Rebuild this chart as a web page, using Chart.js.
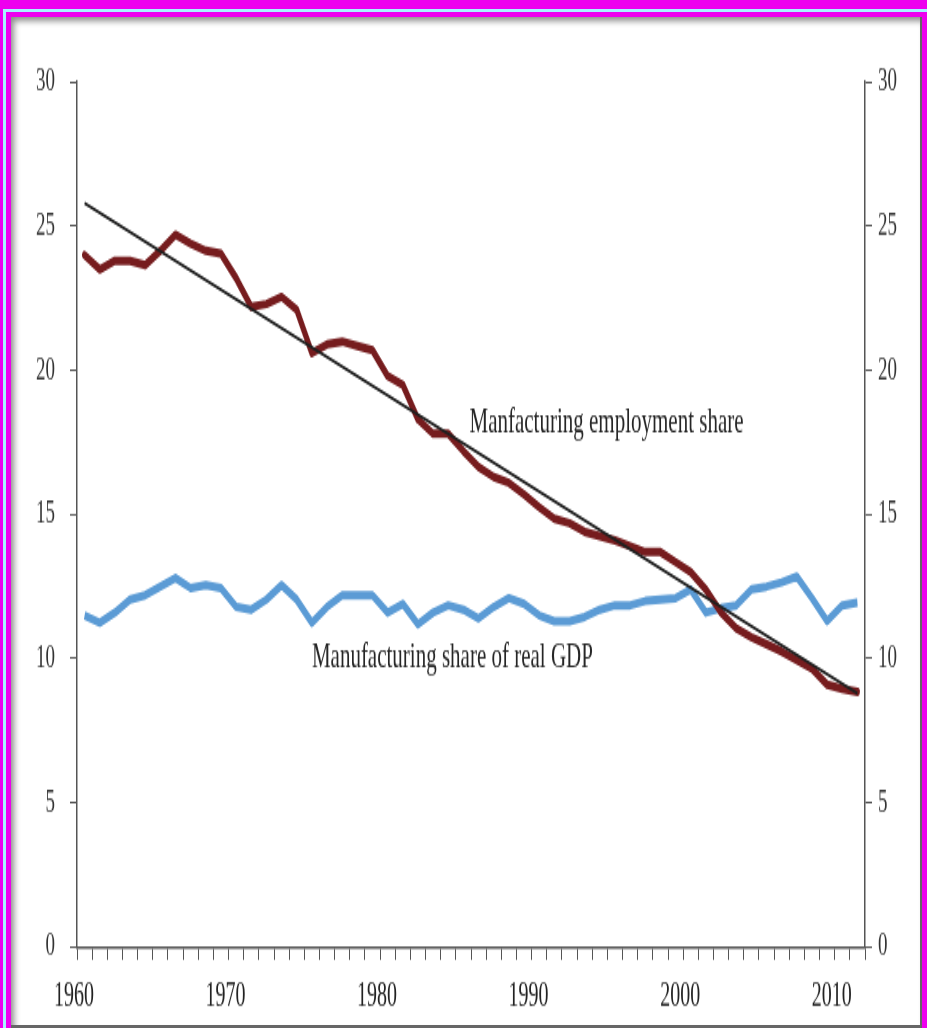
<!DOCTYPE html>
<html>
<head>
<meta charset="utf-8">
<script src="https://cdn.jsdelivr.net/npm/chart.js@4/dist/chart.umd.min.js"></script>
<style>
  html, body { margin: 0; padding: 0; width: 927px; height: 1028px; overflow: hidden; background: #ee00ee; }
  #cyan { position: absolute; left: 3px; top: 9px; width: 940px; height: 1040px; border-left: 3px solid #a6f4ff; border-top: 3px solid #a6f4ff; box-sizing: border-box; }
  #panel { position: absolute; left: 11px; top: 17px; width: 911px; height: 1011px; background: #fff; box-sizing: border-box;
           border-right: 2px solid #666; border-bottom: 3px solid #666;
           box-shadow: inset 4px 5px 6px -1px rgba(0,0,0,0.45); }
  #wrap { position: absolute; left: 0; top: 0; width: 927px; height: 604px; transform-origin: 0 0; }
  canvas { display: block; }
</style>
</head>
<body>
<div id="cyan"></div>
<div id="panel"></div>
<div id="wrap"><canvas id="c" width="927" height="604"></canvas></div>
<script>
// ---- Data ----
const years = [1960,1961,1962,1963,1964,1965,1966,1967,1968,1969,
               1970,1971,1972,1973,1974,1975,1976,1977,1978,1979,
               1980,1981,1982,1983,1984,1985,1986,1987,1988,1989,
               1990,1991,1992,1993,1994,1995,1996,1997,1998,1999,
               2000,2001,2002,2003,2004,2005,2006,2007,2008,2009,
               2010,2011];
const employmentShare = [24.0,23.5,23.8,23.8,23.65,24.15,24.7,24.4,24.15,24.05,
                         23.2,22.2,22.3,22.55,22.1,20.6,20.9,21.0,20.85,20.7,
                         19.8,19.5,18.3,17.8,17.8,17.2,16.65,16.3,16.1,15.7,
                         15.25,14.85,14.7,14.4,14.25,14.1,13.9,13.7,13.7,13.35,
                         13.0,12.4,11.6,11.05,10.75,10.5,10.25,9.95,9.65,9.1,
                         8.95,8.85];
const gdpShare = [11.5,11.25,11.6,12.05,12.2,12.5,12.8,12.45,12.55,12.45,
                  11.8,11.7,12.05,12.55,12.05,11.25,11.8,12.2,12.2,12.2,
                  11.6,11.9,11.2,11.6,11.85,11.7,11.4,11.8,12.1,11.9,
                  11.5,11.3,11.3,11.45,11.7,11.85,11.85,12.0,12.05,12.1,
                  12.4,11.6,11.75,11.85,12.4,12.5,12.65,12.85,12.1,11.3,
                  11.85,11.95];
const trendYears = [1960, 2011];
const trendValues = [25.8, 8.8];
const yTicks = [0, 5, 10, 15, 20, 25, 30];
const xLabelYears = [1960, 1970, 1980, 1990, 2000, 2010];
const labelEmployment = "Manfacturing employment share";
const labelGdp = "Manufacturing share of real GDP";

// ---- Layout ----
const W = 927, H = 604, FULL_H = 1028;
const SY = FULL_H / H;               // vertical stretch of the reference image
document.getElementById('wrap').style.transform = 'scaleY(' + SY + ')';
const MID = 0.5;                     // annual values plotted mid-year
const AREA_TOP = 82 / SY, AREA_BOTTOM = 947 / SY, AREA_LEFT = 77, AREA_RIGHT = 865;

const pts = (xs, ys) => xs.map((yr, i) => ({ x: yr + MID, y: ys[i] }));

Chart.defaults.font.family = "'Liberation Serif', 'Times New Roman', serif";
Chart.defaults.color = '#2a2a2a';

const annotate = {
  id: 'annotate',
  afterDatasetsDraw(chart) {
    const { ctx, scales: { x, y } } = chart;
    ctx.save();
    ctx.fillStyle = '#262626';
    ctx.font = "21px 'Liberation Serif', serif";
    ctx.textBaseline = 'middle';
    ctx.textAlign = 'left';
    ctx.fillText(labelEmployment, x.getPixelForValue(1985.9), y.getPixelForValue(18.2));
    ctx.fillText(labelGdp, x.getPixelForValue(1975.5), y.getPixelForValue(10.05));
    ctx.restore();
  }
};

const axisColor = '#555';
const yCommon = {
  type: 'linear', min: 0, max: 30,
  afterBuildTicks: s => { s.ticks = yTicks.map(v => ({ value: v })); },
  grid: { display: true, drawOnChartArea: false, drawTicks: true, tickLength: 7, tickWidth: 1, tickColor: axisColor },
  border: { display: true, color: axisColor, width: 1.5 },
};

new Chart(document.getElementById('c'), {
  type: 'line',
  data: {
    datasets: [
      { label: 'trend', data: pts(trendYears, trendValues), borderColor: '#1f1f1f', borderWidth: 2,
        pointRadius: 0, tension: 0, order: 0, yAxisID: 'y' },
      { label: labelEmployment, data: pts(years, employmentShare), borderColor: '#761c1e', borderWidth: 5,
        pointRadius: 0, tension: 0, order: 1, borderJoinStyle: 'round', borderCapStyle: 'round', yAxisID: 'y' },
      { label: labelGdp, data: pts(years, gdpShare), borderColor: '#5b9bd5', borderWidth: 5,
        pointRadius: 0, tension: 0, order: 2, borderJoinStyle: 'round', yAxisID: 'y' },
    ]
  },
  options: {
    responsive: false, animation: false, devicePixelRatio: 1, events: [],
    layout: { padding: { top: AREA_TOP, left: 0, right: 0, bottom: 0 } },
    plugins: { legend: { display: false }, tooltip: { enabled: false } },
    scales: {
      x: {
        type: 'linear', min: 1960, max: 2012, offset: false,
        ticks: { stepSize: 1, autoSkip: false, maxRotation: 0, padding: 10, labelOffset: -3,
                 font: { size: 20 }, color: '#222',
                 callback: v => xLabelYears.includes(v) ? String(v) : '' },
        grid: { display: true, drawOnChartArea: false, drawTicks: true, tickLength: 7.6, tickWidth: 1, tickColor: axisColor },
        border: { display: true, color: axisColor, width: 1.5 },
        afterFit: s => { s.height = H - AREA_BOTTOM; }
      },
      y: Object.assign({}, yCommon, {
        position: 'left',
        ticks: { padding: 15, font: { size: 19 }, color: '#333' },
        afterFit: s => { s.width = AREA_LEFT; }
      }),
      y2: Object.assign({}, yCommon, {
        position: 'right',
        ticks: { padding: 6, font: { size: 19 }, color: '#333' },
        afterFit: s => { s.width = W - AREA_RIGHT; }
      }),
    }
  },
  plugins: [annotate]
});
</script>
</body>
</html>
